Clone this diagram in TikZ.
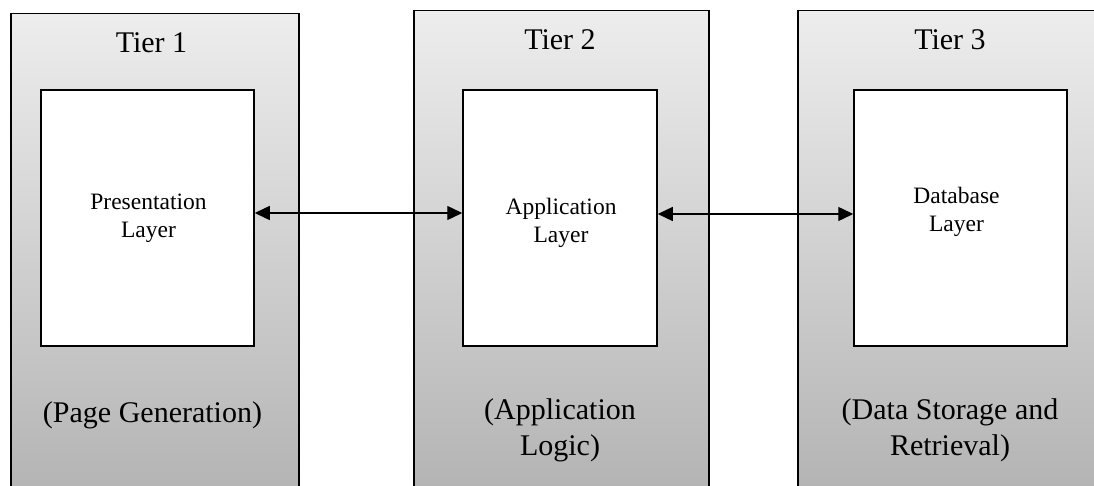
\documentclass[tikz,border=0pt]{standalone}
\usepackage{fontspec}
\setmainfont{Liberation Serif}
\usetikzlibrary{arrows.meta}
\tikzset{%
    tier/.style={draw=black, line width=1.5pt, top color=black!7, bottom color=black!30, inner sep=0pt, anchor=north west}
}

\begin{document}
\begin{tikzpicture}[x=1pt, y=-1pt,
        layer/.style={draw=black, fill=white, line width=1.5pt, inner sep=0pt, minimum width=213pt, minimum height=256pt},
        big/.style={font=\fontsize{30}{36}\selectfont, align=center, anchor=base, inner sep=0pt},
        small/.style={font=\fontsize{23.5}{28}\selectfont, align=center, anchor=base, inner sep=0pt},
        link/.style={line width=1.4pt, {Triangle[length=15pt,width=14pt]}-{Triangle[length=15pt,width=14pt]}}
        ]
        \useasboundingbox (0,0) rectangle (1094,486);
        \clip (0,0) rectangle (1094,486);

        \node[tier, minimum width=288pt, minimum height=490pt] (t1) at (10,13) {};
        \node[tier, minimum width=295pt, minimum height=490pt] (t2) at (413,10) {};
        \node[tier, minimum width=310pt, minimum height=490pt] (t3) at (797,10) {};

        \node[layer] (pres) at (147.5,218) {};
        \node[layer, minimum width=194pt] (app) at (560,218) {};
        \node[layer] (db) at (960.5,218) {};

        \node[big] (t1title) at (151.5,53) {Tier 1};
        \node[big] (t2title) at (560,50) {Tier 2};
        \node[big] (t3title) at (950,50) {Tier 3};

        % multi-line nodes: base is the last line
        \node[small] (prestext) at (148.5,237) {Presentation\\Layer};
        \node[small] (apptext) at (561,243) {Application\\Layer};
        \node[small] (dbtext) at (956.5,232) {Database\\Layer};

        \node[big] (t1role) at (152.5,422) {(Page Generation)};
        \node[big] (t2role) at (560,455) {(Application\\Logic)};
        \node[big] (t3role) at (950,455) {(Data Storage and\\Retrieval)};

        \draw[link] ([yshift=5pt]pres.east) -- ([yshift=5pt]app.west);
        \draw[link] ([yshift=4pt]app.east) -- ([yshift=4pt]db.west);
    \end{tikzpicture}
\end{document}
